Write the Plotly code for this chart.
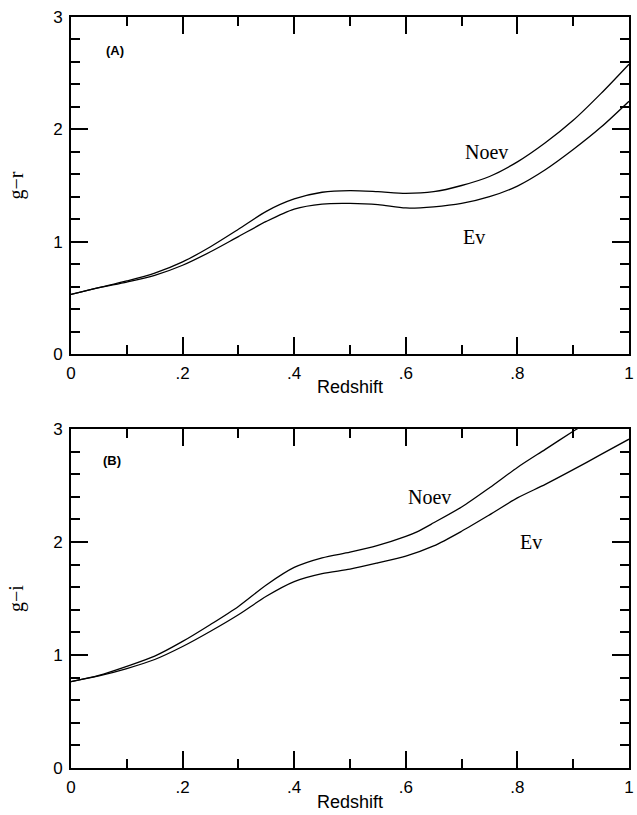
import plotly.graph_objects as go

# ---- data ----
z_top = [0, .05, .1, .15, .2, .25, .3, .35, .4, .45, .5, .55, .6, .65, .7, .75, .8, .85, .9, .95, 1.0]
gr_noev = [0.53, 0.59, 0.65, 0.72, 0.82, 0.955, 1.11, 1.27, 1.38, 1.44, 1.455, 1.445, 1.43, 1.445, 1.50, 1.58, 1.71, 1.88, 2.08, 2.32, 2.58]
gr_ev = [0.53, 0.59, 0.64, 0.70, 0.79, 0.91, 1.045, 1.18, 1.29, 1.335, 1.34, 1.33, 1.30, 1.31, 1.34, 1.40, 1.495, 1.64, 1.82, 2.02, 2.25]

z_bot_noev = [0, .05, .1, .15, .2, .25, .3, .35, .4, .45, .5, .55, .6, .62, .65, .7, .75, .8, .85, .9, .91]
gi_noev = [0.765, 0.82, 0.90, 0.99, 1.12, 1.27, 1.43, 1.62, 1.775, 1.86, 1.91, 1.97, 2.05, 2.09, 2.17, 2.31, 2.48, 2.66, 2.82, 2.98, 3.01]
z_bot_ev = [0, .05, .1, .15, .2, .25, .3, .35, .4, .45, .5, .55, .6, .65, .7, .75, .8, .85, .9, .95, 1.0]
gi_ev = [0.765, 0.815, 0.88, 0.96, 1.075, 1.21, 1.356, 1.52, 1.65, 1.72, 1.76, 1.815, 1.875, 1.965, 2.095, 2.24, 2.39, 2.51, 2.64, 2.775, 2.91]

x_tickvals = [0, 0.2, 0.4, 0.6, 0.8, 1.0]
x_ticktext = ["0", ".2", ".4", ".6", ".8", "1"]
y_tickvals = [0, 1, 2, 3]
y_ticktext = ["0", "1", "2", "3"]

W, H = 637, 815
ML, MR, MT, MB = 71, 3, 17, 47
plot_h = H - MT - MB

fig = go.Figure()

line = dict(color="black", width=1.3, shape="spline", smoothing=0.8)
fig.add_trace(go.Scatter(x=z_top, y=gr_noev, mode="lines", line=line, xaxis="x", yaxis="y", showlegend=False))
fig.add_trace(go.Scatter(x=z_top, y=gr_ev, mode="lines", line=line, xaxis="x", yaxis="y", showlegend=False))
fig.add_trace(go.Scatter(x=z_bot_noev, y=gi_noev, mode="lines", line=line, xaxis="x2", yaxis="y2", showlegend=False))
fig.add_trace(go.Scatter(x=z_bot_ev, y=gi_ev, mode="lines", line=line, xaxis="x2", yaxis="y2", showlegend=False))

tickfont = dict(family="Liberation Sans, Arial, sans-serif", size=17, color="black")

def xaxis(anchor):
    return dict(range=[0, 1], anchor=anchor, showgrid=False, zeroline=False,
                showline=True, linecolor="black", linewidth=1.6, mirror="allticks",
                ticks="inside", ticklen=17, tickwidth=1.5, tickcolor="black",
                tickvals=x_tickvals, ticktext=x_ticktext, tickfont=tickfont,
                ticklabelstandoff=3,
                minor=dict(ticks="inside", ticklen=9, tickwidth=1.5, tickcolor="black", dtick=0.1, showgrid=False))

def yaxis(anchor, dom):
    return dict(range=[0, 3], domain=dom, anchor=anchor, showgrid=False, zeroline=False,
                showline=True, linecolor="black", linewidth=1.6, mirror="allticks",
                ticks="inside", ticklen=17, tickwidth=1.5, tickcolor="black",
                tickvals=y_tickvals, ticktext=y_ticktext, tickfont=tickfont,
                ticklabelstandoff=3,
                minor=dict(ticks="inside", ticklen=9, tickwidth=1.5, tickcolor="black", dtick=0.2, showgrid=False))

top_dom = [(768 - 354) / plot_h, 1.0]
bot_dom = [0.0, (768 - 429) / plot_h]

serif = "Liberation Serif, Times New Roman, serif"
fig.update_layout(
    width=W, height=H, margin=dict(l=ML, r=MR, t=MT, b=MB),
    paper_bgcolor="white", plot_bgcolor="white",
    xaxis=xaxis("y"), yaxis=yaxis("x", top_dom),
    xaxis2=xaxis("y2"), yaxis2=yaxis("x2", bot_dom),
)
fig.update_layout(
    yaxis_title=dict(text="g−r", font=dict(family=serif, size=20, color="black"), standoff=24),
    yaxis2_title=dict(text="g−i", font=dict(family=serif, size=20, color="black"), standoff=24),
)

ann = []
lab = dict(family=serif, size=20, color="black")
ann.append(dict(x=0.744, y=1.80, xref="x", yref="y", text="Noev", showarrow=False, font=lab))
ann.append(dict(x=0.723, y=1.04, xref="x", yref="y", text="Ev", showarrow=False, font=lab))
ann.append(dict(x=0.643, y=2.40, xref="x2", yref="y2", text="Noev", showarrow=False, font=lab))
ann.append(dict(x=0.824, y=2.00, xref="x2", yref="y2", text="Ev", showarrow=False, font=lab))
pfont = dict(family="Liberation Sans, Arial, sans-serif", size=13, color="black")
ann.append(dict(x=0.078, y=2.70, xref="x", yref="y", text="<b>(A)</b>", showarrow=False, font=pfont))
ann.append(dict(x=0.073, y=2.72, xref="x2", yref="y2", text="<b>(B)</b>", showarrow=False, font=pfont))
xt = dict(family="Liberation Sans, Arial, sans-serif", size=18, color="black")
ann.append(dict(x=0.5, y=1 - (387 - MT) / plot_h, xref="x domain", yref="paper", text="Redshift",
                showarrow=False, font=xt, yanchor="middle"))
ann.append(dict(x=0.5, y=1 - (802 - MT) / plot_h, xref="x2 domain", yref="paper", text="Redshift",
                showarrow=False, font=xt, yanchor="middle"))
fig.update_layout(annotations=ann)

fig.write_html("out.html")
